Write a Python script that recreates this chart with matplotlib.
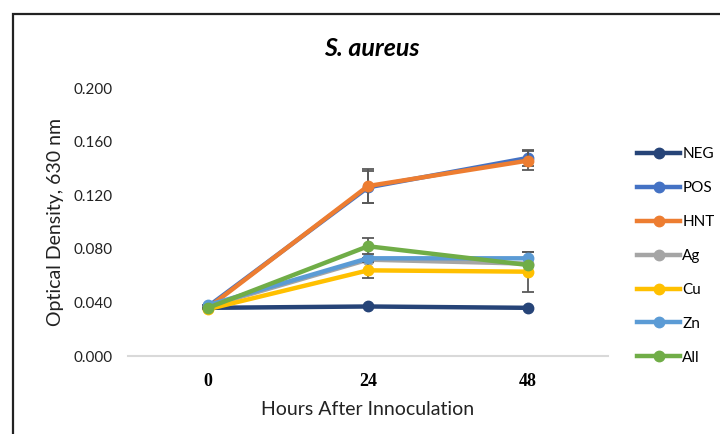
import numpy as np
import matplotlib
matplotlib.use("Agg")
import matplotlib.pyplot as plt
from matplotlib.patches import Rectangle

# values
hours = ["0", "24", "48"]
series_names = ["NEG", "POS", "HNT", "Ag", "Cu", "Zn", "All"]
neg = [0.036, 0.037, 0.036]
pos = [0.037, 0.126, 0.148]
hnt = [0.036, 0.127, 0.146]
ag = [0.037, 0.072, 0.069]
cu = [0.035, 0.064, 0.063]
zn = [0.038, 0.073, 0.073]
all_ = [0.036, 0.082, 0.068]

neg_err = [0.0, 0.0, 0.0]
pos_err = [0.0, 0.012, 0.006]
hnt_err = [0.0, 0.013, 0.007]
ag_err = [0.0, 0.0, 0.0]
cu_err = [0.0, 0.006, 0.015]
zn_err = [0.0, 0.0, 0.005]
all_err = [0.0, 0.006, 0.0]

colors = ["#264478", "#4472C4", "#ED7D31", "#A5A5A5", "#FFC000", "#5B9BD5", "#70AD47"]

plt.rcParams['font.family'] = ['Lato', 'DejaVu Sans']

fig = plt.figure(figsize=(7.2, 4.34), dpi=100)
ax = fig.add_axes([0.1778, 0.1797, 0.6667, 0.6168])

x = np.arange(len(hours))
all_vals = [neg, pos, hnt, ag, cu, zn, all_]
all_errs = [neg_err, pos_err, hnt_err, ag_err, cu_err, zn_err, all_err]
for name, vals, errs, c in zip(series_names, all_vals, all_errs, colors):
    ax.errorbar(x, vals, yerr=errs, fmt="none", ecolor="#595959",
                elinewidth=1.3, capsize=4, capthick=1.3)
    ax.plot(x, vals, color=c, lw=3.2, marker="o", ms=7.5, label=name)

ax.set_xlim(-0.5, 2.5)
ax.set_ylim(0, 0.2)
ax.set_yticks(np.arange(0, 0.201, 0.04))
ax.set_yticklabels(["%.3f" % v for v in np.arange(0, 0.201, 0.04)], fontsize=11)
ax.set_xticks(x)
ax.set_xticklabels(hours, fontsize=13, fontweight="bold", family="Liberation Serif")
ax.tick_params(axis="y", length=0, pad=11, colors="#222222")
ax.tick_params(axis="x", length=0, pad=12)
for s in ["top", "right", "left"]:
    ax.spines[s].set_visible(False)
ax.spines["bottom"].set_color("#D9D9D9")
ax.spines["bottom"].set_linewidth(1.5)

ax.set_xlabel("Hours After Innoculation", fontsize=14, color="#222222", labelpad=8)
ax.set_ylabel("Optical Density, 630 nm", fontsize=14, color="#222222", labelpad=7)
fig.text(0.516, 0.889, "S. aureus", ha="center", va="center", fontsize=18,
         fontweight="bold", style="italic", family="Lato")

leg = fig.legend(loc="center left", bbox_to_anchor=(0.885, 0.41), frameon=False,
                 fontsize=11, handlelength=2.8, handletextpad=0.15,
                 labelspacing=1.3, borderpad=0, borderaxespad=0)

# outer chart frame, cropped at right and bottom
fig.patches.append(Rectangle((13 / 720, -0.1), 1.2, 1 - 14 / 434 + 0.1,
                             transform=fig.transFigure, fill=False,
                             edgecolor="#222222", lw=1.6))

fig.savefig("out.png", dpi=100)
